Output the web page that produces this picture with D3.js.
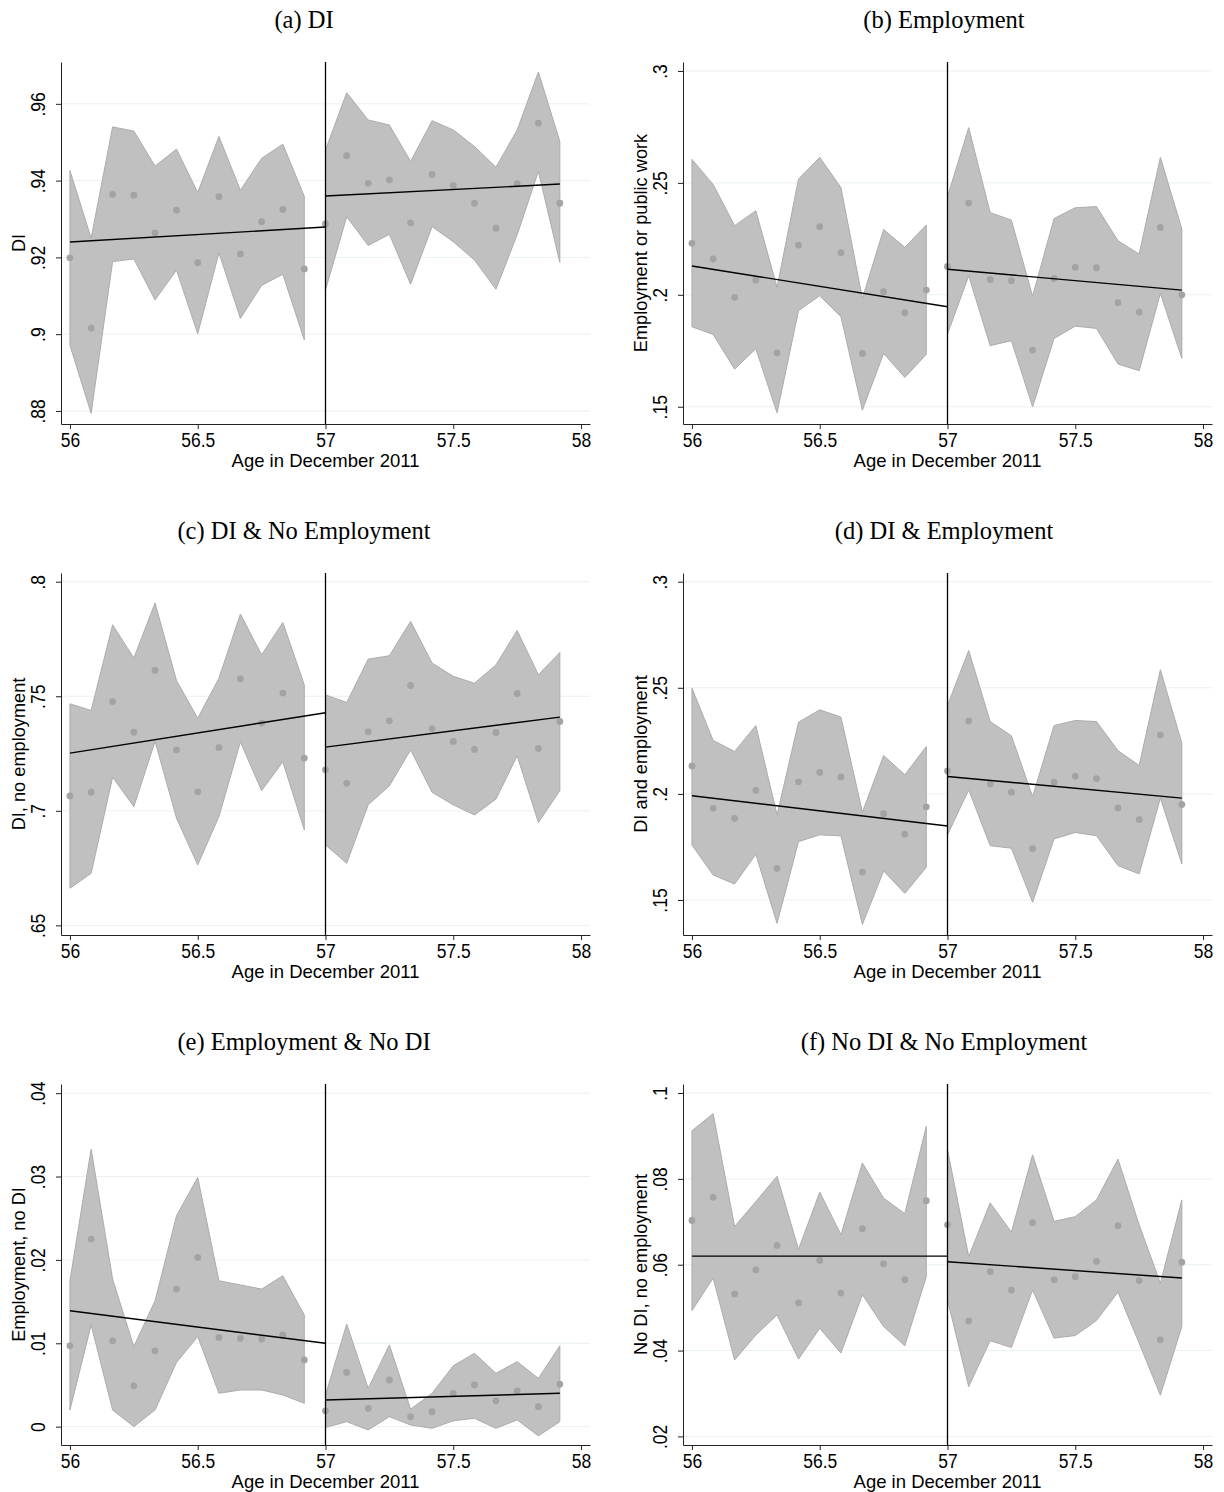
<!DOCTYPE html>
<html>
<head>
<meta charset="utf-8">
<script src="https://cdn.jsdelivr.net/npm/d3@7"></script>
<style>
  body { margin: 0; background: #fff; }
</style>
</head>
<body>
<div id="chart"></div>
<script>
// Data
// ==============================
var agesLeft = [56, 56.083, 56.167, 56.25, 56.333, 56.417, 56.5, 56.583, 56.667, 56.75, 56.833, 56.917];
var agesRight = [57, 57.083, 57.167, 57.25, 57.333, 57.417, 57.5, 57.583, 57.667, 57.75, 57.833, 57.917];
var fitAgesLeft = [56, 57];
var fitAgesRight = [57, 57.917];
var xTicks = [56, 56.5, 57, 57.5, 58];
var cutoff = 57;

var titles = ["(a) DI", "(b) Employment", "(c) DI & No Employment",
  "(d) DI & Employment", "(e) Employment & No DI", "(f) No DI & No Employment"];
var yTitles = ["DI", "Employment or public work", "DI, no employment",
  "DI and employment", "Employment, no DI", "No DI, no employment"];

// (a) DI
var diMean = [.9199, .9016, .9364, .9362, .9264, .9323, .9186, .9358, .9209, .9293, .9325, .917,
  .9287, .9465, .9393, .9402, .929, .9416, .9387, .9341, .9276, .9392, .955, .9341];
var diHi = [.9426, .925, .954, .9529, .9438, .9482, .9369, .9515, .9375, .9458, .9495, .9359,
  .948, .9629, .9558, .9545, .945, .9556, .9532, .9489, .9435, .9532, .9683, .9502];
var diLo = [.8971, .8794, .9189, .9196, .9089, .9167, .9001, .9212, .9041, .9127, .9156, .8985,
  .9115, .9306, .9231, .926, .913, .928, .9241, .9193, .9117, .9259, .9424, .9187];
var diFit = [.924, .9279, .936, .9391];
var diTicks = [.88, .9, .92, .94, .96];

// (b) Employment
var empMean = [.223, .216, .1989, .2066, .1741, .2222, .2304, .2188, .1738, .2014, .192, .2021,
  .2127, .241, .2069, .2063, .1753, .2073, .2123, .2121, .1965, .1923, .2301, .2];
var empHi = [.2605, .2493, .2309, .2376, .2033, .2517, .2614, .2479, .1984, .2292, .2212, .2312,
  .2438, .2747, .2367, .2334, .1994, .2341, .2389, .2394, .2242, .2182, .2614, .2294];
var empLo = [.1857, .1823, .1668, .1759, .1473, .1929, .1996, .1902, .1485, .1738, .1631, .1734,
  .1825, .2085, .1773, .1795, .15, .1805, .186, .185, .1691, .1661, .2006, .1716];
var empFit = [.2129, .1947, .2114, .2021];
var empTicks = [.15, .2, .25, .3];

// (c) DI & No Employment
var diNoEmpMean = [.7065, .7081, .7477, .7343, .7613, .7266, .7083, .7276, .7576, .7383, .7514, .723,
  .7179, .712, .7345, .7393, .7547, .7359, .7303, .7268, .7342, .7512, .7272, .739];
var diNoEmpHi = [.7467, .7438, .7812, .7667, .7907, .7569, .7404, .7579, .7859, .7681, .7822, .755,
  .7506, .7473, .7662, .7677, .7827, .7645, .7587, .7557, .7637, .7787, .7594, .7691];
var diNoEmpLo = [.6662, .6727, .7147, .7018, .7303, .6968, .6764, .6975, .73, .7088, .7214, .6917,
  .6851, .6771, .7026, .7109, .7266, .7081, .7026, .6982, .7051, .724, .6949, .7088];
var diNoEmpFit = [.7252, .7428, .7278, .7409];
var diNoEmpTicks = [.65, .7, .75, .8];

// (d) DI & Employment
var diEmpMean = [.2132, .1932, .1885, .2016, .1649, .2057, .2101, .208, .1631, .1907, .181, .1939,
  .2108, .2344, .2047, .2008, .1742, .2055, .2083, .2072, .1934, .1879, .2277, .195];
var diEmpHi = [.2498, .2252, .22, .2322, .1901, .2338, .2396, .2362, .1914, .2181, .209, .2223,
  .2417, .2676, .2341, .2274, .1987, .2322, .2346, .2341, .2204, .2134, .2585, .2239];
var diEmpLo = [.1759, .1618, .1575, .1715, .139, .1775, .1807, .1802, .1385, .1637, .1531, .1654,
  .1807, .2019, .1756, .1744, .1489, .1788, .1818, .1803, .1662, .1623, .198, .167];
var diEmpFit = [.1991, .1849, .2082, .198];
var diEmpTicks = [.15, .2, .25, .3];

// (e) Employment & No DI
var empNoDiMean = [.0097, .0225, .0103, .0049, .0091, .0165, .0203, .0107, .0106, .0105, .011, .008,
  .0019, .0065, .0022, .0056, .0012, .0018, .004, .005, .0031, .0043, .0024, .0051];
var empNoDiHi = [.0175, .0333, .0177, .0096, .0151, .0253, .0299, .0175, .017, .0165, .0181, .0134,
  .0038, .0123, .0046, .0098, .0021, .004, .0073, .0088, .0064, .0078, .0058, .0097];
var empNoDiLo = [.002, .0122, .002, 0, .002, .0077, .0108, .004, .0044, .0044, .0038, .0028,
  -.0001, .0006, -.0004, .0012, .0002, -.0002, .0007, .001, -.0002, .0008, -.0011, .0006];
var empNoDiFit = [.0139, .01, .0032, .004];
var empNoDiTicks = [0, .01, .02, .03, .04];

// (f) No DI & No Employment
var noneMean = [.0703, .0757, .0532, .0588, .0645, .0511, .061, .0534, .0684, .0602, .0565, .0749,
  .0693, .0469, .0584, .0541, .0698, .0565, .0572, .0608, .0691, .0563, .0425, .0606];
var noneHi = [.0912, .0952, .0689, .0747, .0806, .0636, .0769, .067, .0837, .0755, .0719, .0922,
  .0868, .0619, .0744, .0676, .0856, .0701, .0712, .0751, .0846, .0693, .0557, .0751];
var noneLo = [.0493, .0569, .0378, .0436, .0483, .038, .0452, .0394, .053, .0456, .0411, .0572,
  .0518, .0316, .0423, .0407, .0541, .0429, .0435, .047, .0536, .0417, .0296, .0456];
var noneFit = [.062, .062, .0607, .0569];
var noneTicks = [.02, .04, .06, .08, .1];

// Layout
// ==============================
var svgWidth = 1224;
var svgHeight = 1492;
var colLeft = [61, 683];
var colRight = [590, 1212];
var titleCenter = [304, 944];
var rowTop = [62, 573, 1084];
var rowBottom = [424, 935, 1445];
var xDomain = [55.965, 58.035];
var yDomains = [[.8766, .9709], [.1423, .304], [.6458, .8038], [.1335, .3041], [-.0022, .0411], [.018, .1021]];
var glyphStretch = 1.12;   // Stata text comes out a little taller than Arial

var panels = [
  { mean: diMean, hi: diHi, lo: diLo, fit: diFit, ticks: diTicks },
  { mean: empMean, hi: empHi, lo: empLo, fit: empFit, ticks: empTicks },
  { mean: diNoEmpMean, hi: diNoEmpHi, lo: diNoEmpLo, fit: diNoEmpFit, ticks: diNoEmpTicks },
  { mean: diEmpMean, hi: diEmpHi, lo: diEmpLo, fit: diEmpFit, ticks: diEmpTicks },
  { mean: empNoDiMean, hi: empNoDiHi, lo: empNoDiLo, fit: empNoDiFit, ticks: empNoDiTicks },
  { mean: noneMean, hi: noneHi, lo: noneLo, fit: noneFit, ticks: noneTicks }
];

// Stata style labels: ".96", "0"
function stataFormat(v) {
  if (v === 0) return "0";
  return d3.format("")(+v.toFixed(3)).replace(/^0\./, ".").replace(/^-0\./, "-.");
}

var svg = d3.select("#chart")
  .append("svg")
  .attr("width", svgWidth)
  .attr("height", svgHeight)
  .style("font-family", "'Liberation Sans', Arial, sans-serif");

panels.forEach(function(p, i) {
  var col = i % 2;
  var row = Math.floor(i / 2);
  var left = colLeft[col], right = colRight[col];
  var top = rowTop[row], bottom = rowBottom[row];

  var x = d3.scaleLinear().domain(xDomain).range([left, right]);
  var y = d3.scaleLinear().domain(yDomains[i]).range([bottom, top]);

  var g = svg.append("g");

  // split into the two sides of the cutoff
  var sides = [
    { ages: agesLeft, mean: p.mean.slice(0, 12), hi: p.hi.slice(0, 12), lo: p.lo.slice(0, 12),
      fitAges: fitAgesLeft, fit: p.fit.slice(0, 2) },
    { ages: agesRight, mean: p.mean.slice(12), hi: p.hi.slice(12), lo: p.lo.slice(12),
      fitAges: fitAgesRight, fit: p.fit.slice(2) }
  ];

  // gridlines
  g.selectAll(".grid")
    .data(p.ticks)
    .enter()
    .append("line")
    .attr("x1", left)
    .attr("x2", right)
    .attr("y1", d => y(d))
    .attr("y2", d => y(d))
    .attr("stroke", "#e9f1f3")
    .attr("stroke-width", 1);

  // confidence bands
  var area = d3.area()
    .x(d => x(d.age))
    .y0(d => y(d.lo))
    .y1(d => y(d.hi));

  sides.forEach(function(s) {
    var pts = s.ages.map(function(a, k) { return { age: a, lo: s.lo[k], hi: s.hi[k] }; });
    g.append("path")
      .datum(pts)
      .attr("d", area)
      .attr("fill", "#c0c0c0")
      .attr("stroke", "#acacac")
      .attr("stroke-width", 1);
  });

  // dots
  sides.forEach(function(s) {
    g.selectAll(null)
      .data(s.ages.map(function(a, k) { return { age: a, v: s.mean[k] }; }))
      .enter()
      .append("circle")
      .attr("cx", d => x(d.age))
      .attr("cy", d => y(d.v))
      .attr("r", 3.4)
      .attr("fill", "#a3a3a3");
  });

  // fitted lines
  var line = d3.line().x(d => x(d.age)).y(d => y(d.v));
  sides.forEach(function(s) {
    g.append("path")
      .datum(s.fitAges.map(function(a, k) { return { age: a, v: s.fit[k] }; }))
      .attr("d", line)
      .attr("fill", "none")
      .attr("stroke", "#000")
      .attr("stroke-width", 1.4);
  });

  // cutoff line
  g.append("line")
    .attr("x1", x(cutoff))
    .attr("x2", x(cutoff))
    .attr("y1", top)
    .attr("y2", bottom)
    .attr("stroke", "#000")
    .attr("stroke-width", 1.3);

  // axes
  var bottomAxis = d3.axisBottom(x).tickValues(xTicks).tickFormat(d3.format("")).tickSize(5).tickSizeOuter(0);
  var leftAxis = d3.axisLeft(y).tickValues(p.ticks).tickFormat(stataFormat).tickSize(5).tickSizeOuter(0);

  var xg = g.append("g")
    .attr("transform", `translate(0, ${bottom})`)
    .call(bottomAxis);
  xg.selectAll("text")
    .attr("y", 0)
    .attr("dy", 0)
    .attr("transform", `translate(0, 23) scale(1, ${glyphStretch})`)
    .attr("fill", "#000")
    .style("font-size", "17.5px");

  var yg = g.append("g")
    .attr("transform", `translate(${left}, 0)`)
    .call(leftAxis);
  yg.selectAll("text")
    .attr("transform", `rotate(-90) translate(0, -16) scale(1, ${glyphStretch})`)
    .attr("x", 0)
    .attr("y", 0)
    .attr("dy", 0)
    .attr("text-anchor", "middle")
    .attr("fill", "#000")
    .style("font-size", "17.5px");

  [xg, yg].forEach(function(a) {
    a.select(".domain").attr("stroke", "#222");
    a.selectAll(".tick line").attr("stroke", "#222");
    a.attr("font-family", null).attr("font-size", null);
  });

  // axis titles
  g.append("text")
    .attr("x", (left + right) / 2)
    .attr("y", bottom + 43)
    .attr("text-anchor", "middle")
    .style("font-size", "18.5px")
    .text("Age in December 2011");

  g.append("text")
    .attr("transform", `translate(${left - 36}, ${(top + bottom) / 2}) rotate(-90)`)
    .attr("text-anchor", "middle")
    .style("font-size", "18.2px")
    .text(yTitles[i]);

  // panel title
  g.append("text")
    .attr("x", titleCenter[col])
    .attr("y", top - 34)
    .attr("text-anchor", "middle")
    .style("font-family", "'Liberation Serif', 'DejaVu Serif', serif")
    .style("font-size", "24.5px")
    .text(titles[i]);
});
</script>
</body>
</html>
